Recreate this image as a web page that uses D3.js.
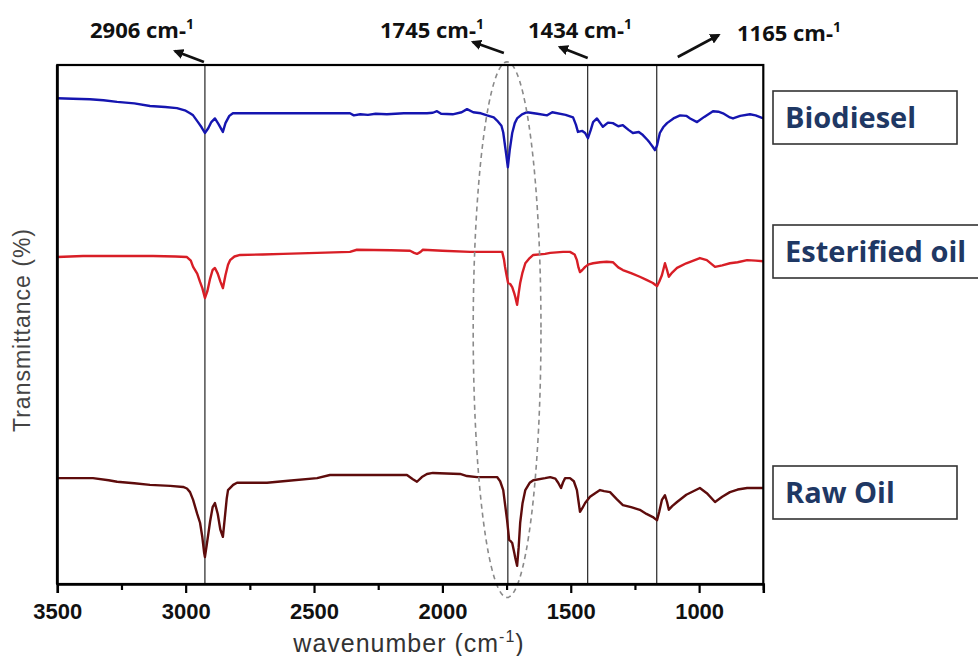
<!DOCTYPE html>
<html>
<head>
<meta charset="utf-8">
<script src="https://cdn.jsdelivr.net/npm/d3@7"></script>
<style>
  body { margin: 0; background: #fff; }
  svg { display: block; }
</style>
</head>
<body>
<svg id="chart" width="978" height="656"></svg>
<script>
// FTIR spectra, stacked (arbitrary transmittance offset per sample)
// each point = [wavenumber cm-1, transmittance]
var biodiesel = [[3500,93.6],[3440,93.5],[3373,93.4],[3320,93.2],[3267,92.9],[3200,92.6],[3139,92.1],[3080,91.9],[3034,91.7],[3000,91.2],[2983,90.7],[2971,90.3],[2952,89.0],[2938,88.0],[2925,86.9],[2912,87.8],[2900,89.0],[2886,89.7],[2872,88.6],[2855,87.1],[2845,88.8],[2830,90.2],[2816,90.7],[2700,90.7],[2500,90.7],[2360,90.7],[2345,90.3],[2320,90.5],[2290,90.4],[2260,90.6],[2216,90.5],[2150,90.7],[2060,90.7],[2037,90.8],[2021,91.1],[2005,90.6],[1960,90.5],[1925,90.9],[1904,91.5],[1880,90.9],[1850,90.7],[1826,90.3],[1800,89.9],[1787,89.3],[1770,88.3],[1763,87.0],[1752,83.0],[1745,80.3],[1738,83.5],[1728,86.9],[1718,88.8],[1709,89.7],[1690,90.5],[1670,90.9],[1630,90.6],[1592,90.3],[1572,90.9],[1520,90.4],[1491,89.9],[1480,88.5],[1472,87.1],[1455,87.3],[1444,86.9],[1433,85.9],[1422,87.5],[1413,89.0],[1398,89.7],[1385,88.8],[1375,88.1],[1355,88.9],[1336,88.8],[1315,88.2],[1297,88.4],[1275,87.5],[1258,86.9],[1235,87.1],[1219,86.5],[1200,85.5],[1192,85.0],[1180,84.2],[1172,83.6],[1164,84.5],[1153,86.9],[1140,88.0],[1125,88.8],[1100,89.7],[1074,90.3],[1050,90.2],[1035,89.7],[1008,89.0],[980,90.0],[946,91.1],[925,91.0],[907,90.7],[880,89.9],[868,89.7],[840,90.2],[802,90.5],[780,90.3],[750,89.7]];

var esterifiedOil = [[3500,63.0],[3400,63.2],[3250,63.2],[3127,63.2],[3040,63.1],[2995,63.0],[2980,62.3],[2971,61.1],[2955,59.8],[2944,58.2],[2935,57.0],[2925,55.1],[2915,56.5],[2905,58.8],[2895,60.5],[2886,60.9],[2875,59.8],[2865,58.3],[2855,57.0],[2845,59.5],[2835,61.5],[2827,62.4],[2810,63.1],[2788,63.4],[2700,63.5],[2620,63.6],[2488,63.8],[2360,64.0],[2333,64.4],[2200,64.3],[2126,64.2],[2110,63.8],[2099,63.6],[2085,64.0],[2076,64.4],[2000,64.2],[1892,64.0],[1800,64.0],[1767,64.0],[1760,62.5],[1756,61.1],[1750,59.5],[1744,58.0],[1736,57.8],[1728,57.2],[1720,56.0],[1716,55.3],[1709,53.8],[1703,56.0],[1697,58.0],[1688,60.0],[1677,61.8],[1660,62.8],[1646,63.4],[1600,63.6],[1580,63.8],[1530,64.0],[1503,64.0],[1485,63.5],[1476,62.4],[1470,61.0],[1464,60.1],[1455,60.5],[1444,61.1],[1430,61.6],[1413,61.8],[1386,62.0],[1360,62.1],[1336,62.0],[1315,61.0],[1297,60.5],[1265,59.9],[1231,59.2],[1205,58.6],[1180,58.0],[1170,57.6],[1164,57.4],[1155,58.3],[1145,59.5],[1133,61.8],[1125,60.5],[1118,59.2],[1105,60.0],[1086,60.9],[1050,61.8],[997,62.8],[970,62.4],[938,61.1],[910,61.4],[880,61.8],[850,62.0],[813,62.4],[780,62.3],[750,62.2]];

var rawOil = [[3500,20.4],[3430,20.4],[3361,20.4],[3300,20.0],[3267,19.7],[3200,19.4],[3139,19.1],[3060,18.9],[3010,18.7],[2995,18.4],[2983,17.7],[2971,16.2],[2955,13.5],[2944,11.8],[2935,9.0],[2928,6.0],[2925,5.2],[2918,7.5],[2905,12.0],[2895,14.8],[2886,15.6],[2875,13.5],[2865,10.5],[2855,9.1],[2848,12.5],[2840,16.5],[2835,18.1],[2815,19.1],[2800,19.5],[2683,19.5],[2600,19.9],[2488,20.4],[2438,21.0],[2300,21.0],[2138,21.0],[2115,20.2],[2099,19.7],[2080,20.6],[2060,21.2],[2037,21.4],[1931,21.2],[1904,20.8],[1865,20.6],[1787,20.6],[1775,19.8],[1763,18.1],[1755,15.0],[1748,12.3],[1740,8.5],[1733,8.2],[1728,7.9],[1720,6.0],[1716,5.0],[1709,3.5],[1703,7.0],[1697,11.8],[1688,15.5],[1677,18.1],[1660,19.5],[1646,20.0],[1600,20.4],[1580,20.6],[1560,20.3],[1549,19.5],[1538,18.5],[1530,19.6],[1522,20.4],[1503,20.4],[1488,19.8],[1476,18.1],[1470,16.0],[1464,13.9],[1455,14.6],[1444,15.6],[1425,16.8],[1405,17.5],[1386,18.1],[1370,17.9],[1347,17.7],[1320,16.3],[1297,15.2],[1265,14.8],[1231,14.3],[1205,13.5],[1180,12.9],[1170,12.5],[1164,12.3],[1155,14.0],[1145,16.2],[1133,17.1],[1125,15.8],[1118,14.3],[1105,15.0],[1086,15.8],[1050,17.2],[997,18.5],[970,17.5],[938,15.8],[910,16.8],[880,17.7],[850,18.2],[813,18.5],[780,18.5],[750,18.5]];

var seriesNames = ["Biodiesel", "Esterified oil", "Raw Oil"];
var seriesColors = ["#1515b0", "#d81e26", "#5e0c0c"];

var majorTicks = [3500, 3000, 2500, 2000, 1500, 1000];
var minorTicks = [3250, 2750, 2250, 1750, 1250, 750];

// marked bands: where the line is drawn and what the label says
var bandLines = [2925, 1745, 1434, 1165];
var bandLabels = ["2906", "1745", "1434", "1165"];

// dashed ellipse round the carbonyl band
var ellipseWn = 1748, ellipseHalfWidth = 132, ellipseT = 49, ellipseHalfHeight = 51.6;

var svg = d3.select("#chart");
// note: "top" is reserved on window, so plot edges get their own names
var plotL = 57.3, plotR = 763.3, plotT = 65, plotB = 584;

var x = d3.scaleLinear().domain([3500, 750]).range([plotL, plotR]);
var y = d3.scaleLinear().domain([0, 100]).range([plotB, plotT]);

// band marker lines
svg.append("g").selectAll("line").data(bandLines).join("line")
    .attr("x1", d => x(d)).attr("x2", d => x(d))
    .attr("y1", plotT).attr("y2", plotB)
    .attr("stroke", "#111").attr("stroke-width", 1.1);

// spectra
var line = d3.line().x(d => x(d[0])).y(d => y(d[1]));
svg.append("g").selectAll("path").data([biodiesel, esterifiedOil, rawOil]).join("path")
    .attr("d", line)
    .attr("fill", "none")
    .attr("stroke", (d, i) => seriesColors[i])
    .attr("stroke-width", 2.4)
    .attr("stroke-linejoin", "round");

// dashed ellipse
var ex1 = x(ellipseWn - ellipseHalfWidth), ex2 = x(ellipseWn + ellipseHalfWidth);
svg.append("ellipse")
    .attr("cx", x(ellipseWn))
    .attr("cy", y(ellipseT))
    .attr("rx", Math.abs(ex1 - ex2) / 2)
    .attr("ry", y(ellipseT - ellipseHalfHeight) - y(ellipseT))
    .attr("fill", "none")
    .attr("stroke", "#8a8a8a")
    .attr("stroke-width", 1.6)
    .attr("stroke-dasharray", "5,4");

// frame
svg.append("rect")
    .attr("x", plotL).attr("y", plotT)
    .attr("width", plotR - plotL).attr("height", plotB - plotT)
    .attr("fill", "none").attr("stroke", "#000").attr("stroke-width", 2.2);
svg.append("line").attr("x1", plotL).attr("x2", plotL).attr("y1", plotT).attr("y2", plotB)
    .attr("stroke", "#000").attr("stroke-width", 2.8);

// x axis
var xAxis = svg.append("g").attr("transform", "translate(0," + plotB + ")")
    .call(d3.axisBottom(x).tickValues(majorTicks).tickSize(9).tickPadding(10).tickFormat(d3.format("d")));
xAxis.select(".domain").attr("stroke-width", 2.5);
xAxis.selectAll(".tick line").attr("stroke-width", 2.2);
xAxis.selectAll("text").attr("font-family", "'Liberation Sans', Arial, sans-serif")
    .attr("font-weight", "bold").attr("font-size", 22).attr("fill", "#111");

var xMinor = svg.append("g").attr("transform", "translate(0," + plotB + ")")
    .call(d3.axisBottom(x).tickValues(minorTicks).tickSize(6).tickFormat(""));
xMinor.select(".domain").remove();
xMinor.selectAll(".tick line").attr("stroke-width", 2.2);

// axis titles
var xt = svg.append("text")
    .attr("x", 409).attr("y", 652)
    .attr("text-anchor", "middle")
    .attr("font-family", "'Liberation Sans', Arial, sans-serif")
    .attr("font-size", 25).attr("letter-spacing", 1)
    .attr("fill", "#333");
xt.append("tspan").text("wavenumber (cm");
xt.append("tspan").attr("font-size", 16).attr("dy", -10).text("-1");
xt.append("tspan").attr("dy", 10).text(")");

svg.append("text")
    .attr("transform", "translate(30,330) rotate(-90)")
    .attr("text-anchor", "middle")
    .attr("font-family", "'Liberation Sans', Arial, sans-serif")
    .attr("font-size", 23).attr("letter-spacing", 1)
    .attr("fill", "#444")
    .text("Transmittance (%)");

// band labels with arrows
svg.append("defs").append("marker")
    .attr("id", "head").attr("viewBox", "0 0 10 10")
    .attr("refX", 8).attr("refY", 5)
    .attr("markerWidth", 4).attr("markerHeight", 4)
    .attr("orient", "auto")
    .append("path").attr("d", "M0,0 L10,5 L0,10 Z").attr("fill", "#111");

// label left x, baseline y, arrow offsets from the line top
var labelPos = [[90, 38], [380, 38], [528, 38], [737, 41]];
var arrowFrom = [[-1, -3], [-4, -12], [0, -7], [21, -8]];
var arrowTo = [[-30, -14], [-35, -23], [-28, -18], [62, -30]];

bandLines.forEach(function(wn, i) {
    var lx = x(wn);
    svg.append("line")
        .attr("x1", lx + arrowFrom[i][0]).attr("y1", plotT + arrowFrom[i][1])
        .attr("x2", lx + arrowTo[i][0]).attr("y2", plotT + arrowTo[i][1])
        .attr("stroke", "#111").attr("stroke-width", 2.6)
        .attr("marker-end", "url(#head)");
    var t = svg.append("text")
        .attr("x", labelPos[i][0]).attr("y", labelPos[i][1])
        .attr("font-family", "'Open Sans', sans-serif")
        .attr("font-weight", "bold").attr("font-size", 22).attr("fill", "#111");
    t.append("tspan").text(bandLabels[i] + " cm-");
    t.append("tspan").attr("font-size", 14).attr("dy", -9).text("1");
});

// sample legend boxes
var boxTops = [91, 225, 466];
var boxWidths = [184, 210, 184];
seriesNames.forEach(function(name, i) {
    svg.append("rect")
        .attr("x", 773).attr("y", boxTops[i])
        .attr("width", boxWidths[i]).attr("height", 53)
        .attr("fill", "#fff").attr("stroke", "#333").attr("stroke-width", 1.6);
    svg.append("text")
        .attr("x", 785).attr("y", boxTops[i] + 37)
        .attr("font-family", "'Open Sans', sans-serif")
        .attr("font-weight", "bold").attr("font-size", 29)
        .attr("fill", "#1f3864")
        .text(name);
});
</script>
</body>
</html>
